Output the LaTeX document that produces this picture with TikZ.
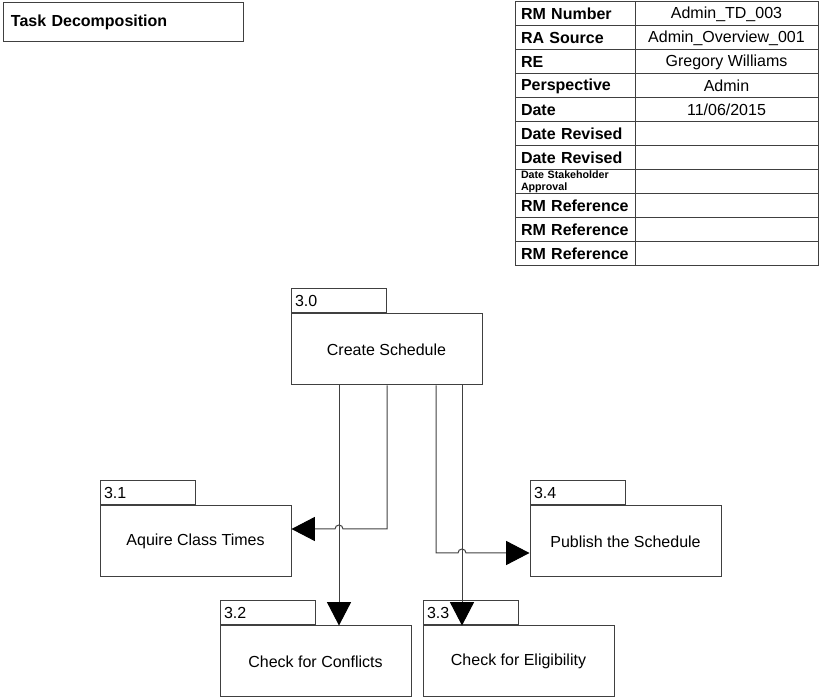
\documentclass[tikz,border=0pt]{standalone}
\usepackage{fontspec}
\setmainfont{Liberation Sans}
\usetikzlibrary{arrows.meta,positioning}

\tikzset{
  line/.style={draw=black!75,line width=0.75pt},
  task/.style={line,rectangle,inner sep=0pt,minimum width=143.25pt,minimum height=53.25pt,
    font=\fontsize{12}{14}\selectfont},
  tasktab/.style={line,rectangle,inner xsep=3pt,inner ysep=0pt,minimum height=18pt,
    text width=65.25pt,align=left,font=\fontsize{12}{14}\selectfont},
  keycell/.style={line,rectangle,inner xsep=4.5pt,inner ysep=0pt,minimum height=18pt,
    text width=81pt,align=left,font=\fontsize{12}{14}\bfseries\selectfont},
  valcell/.style={line,rectangle,inner sep=0pt,minimum height=18pt,minimum width=137.25pt,
    font=\fontsize{12}{14}\selectfont},
  flow/.style={line,-{Triangle[length=17.5pt,width=18pt,color=black,fill=black]}}
}

\begin{document}
\begin{tikzpicture}[x=0.75pt,y=-0.75pt]
  \useasboundingbox (0,0) rectangle (819,698);

  % title
  \node[line,rectangle,inner xsep=6pt,minimum height=29.25pt,text width=168pt,align=left,
    font=\fontsize{12}{14}\bfseries\selectfont] (title) at (123,22.5) {Task Decomposition};

  % info table
  \node[keycell] (k1) at (575,14) {RM Number};
  \node[keycell] (k2) at (575,38) {RA Source};
  \node[keycell] (k3) at (575,62) {RE};
  \node[keycell] (k4) at (575,86) {Perspective};
  \node[keycell] (k5) at (575,110) {Date};
  \node[keycell] (k6) at (575,134) {Date Revised};
  \node[keycell] (k7) at (575,158) {Date Revised};
  \node[keycell,font=\fontsize{8}{9}\bfseries\selectfont] (k8) at (575,182) {Date Stakeholder\\Approval};
  \node[keycell] (k9) at (575,206) {RM Reference};
  \node[keycell] (k10) at (575,230) {RM Reference};
  \node[keycell] (k11) at (575,254) {RM Reference};
  \node[valcell] (v1) at (726.5,14) {Admin\_TD\_003};
  \node[valcell] (v2) at (726.5,38) {Admin\_Overview\_001};
  \node[valcell] (v3) at (726.5,62) {Gregory Williams};
  \node[valcell] (v4) at (726.5,86) {Admin};
  \node[valcell] (v5) at (726.5,110) {11/06/2015};
  \node[valcell] (v6) at (726.5,134) {};
  \node[valcell] (v7) at (726.5,158) {};
  \node[valcell] (v8) at (726.5,182) {};
  \node[valcell] (v9) at (726.5,206) {};
  \node[valcell] (v10) at (726.5,230) {};
  \node[valcell] (v11) at (726.5,254) {};

  % tasks
  \node[task] (s30) at (386.5,349.5) {Create Schedule};
  \node[task] (s31) at (195.5,541.5) {Aquire Class Times};
  \node[task] (s34) at (625.5,541.5) {Publish the Schedule};
  \node[task] (s32) at (315.5,661.5) {Check for Conflicts};
  \node[task] (s33) at (518.5,661.5) {Check for Eligibility};
  \node[tasktab,anchor=south west] (t30) at (s30.north west) {3.0};
  \node[tasktab,anchor=south west] (t31) at (s31.north west) {3.1};
  \node[tasktab,anchor=south west] (t34) at (s34.north west) {3.4};
  \node[tasktab,anchor=south west] (t32) at (s32.north west) {3.2};
  \node[tasktab,anchor=south west] (t33) at (s33.north west) {3.3};

  % connectors
  \coordinate (x1) at (339,0);
  \coordinate (x2) at (387,0);
  \coordinate (x3) at (436,0);
  \coordinate (x4) at (462,0);
  \coordinate (y1) at (0,529);
  \coordinate (y2) at (0,553);
  \draw[flow] (s30.south -| x1) -- (s32.north -| x1);
  \draw[flow] (s30.south -| x4) -- (s33.north -| x4);
  \draw[flow] (s30.south -| x2) -- (x2 |- y1) -- ([xshift=3pt]x1 |- y1)
    arc[start angle=0,end angle=-180,radius=4] -- (s31.east |- y1);
  \draw[flow] (s30.south -| x3) -- (x3 |- y2) -- ([xshift=-3pt]x4 |- y2)
    arc[start angle=180,end angle=360,radius=4] -- (s34.west |- y2);
\end{tikzpicture}
\end{document}
